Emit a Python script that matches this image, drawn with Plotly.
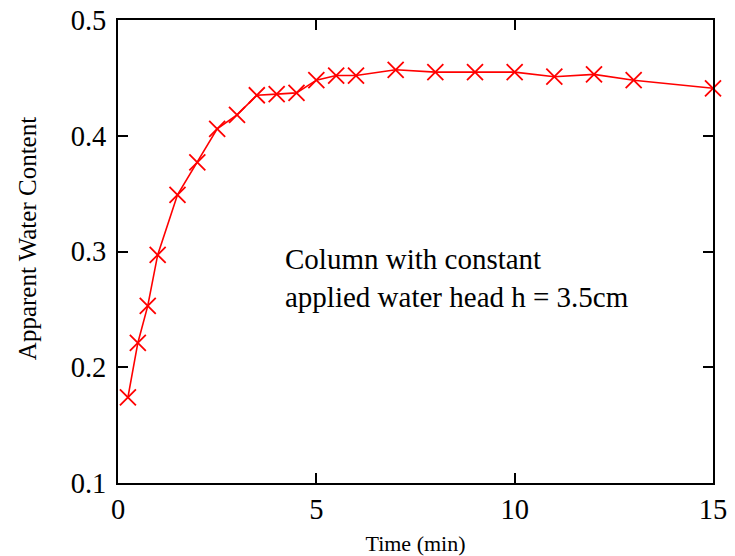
import plotly.graph_objects as go

time_min = [0.25, 0.5, 0.75, 1, 1.5, 2, 2.5, 3, 3.5, 4, 4.5, 5, 5.5, 6,
            7, 8, 9, 10, 11, 12, 13, 15]
water_content = [0.174, 0.221, 0.253, 0.297, 0.349, 0.377, 0.406, 0.418,
                 0.435, 0.436, 0.437, 0.448, 0.452, 0.452, 0.457, 0.455,
                 0.455, 0.455, 0.451, 0.453, 0.448, 0.441]

x_ticks = [0, 5, 10, 15]
y_ticks = [0.1, 0.2, 0.3, 0.4, 0.5]
y_tick_labels = ["0.1", "0.2", "0.3", "0.4", "0.5"]

FONT = "Liberation Serif"

fig = go.Figure()
fig.add_trace(go.Scatter(
    x=time_min, y=water_content, mode="lines+markers",
    line=dict(color="#ff0000", width=1.6),
    marker=dict(symbol="x-thin", size=16, line=dict(color="#ff0000", width=1.8)),
    cliponaxis=False, showlegend=False,
))

axis_common = dict(
    showgrid=False, zeroline=False, showline=True, linecolor="black",
    linewidth=2, mirror="ticks", ticks="inside", ticklen=10, tickwidth=2,
    tickcolor="black", tickfont=dict(family=FONT, size=28.5, color="black"),
    automargin=False,
)

fig.update_layout(
    width=735, height=556,
    margin=dict(l=118, r=22, t=20, b=73),
    paper_bgcolor="white", plot_bgcolor="white",
    font=dict(family=FONT, color="black"),
    xaxis=dict(range=[0, 15], tickvals=x_ticks,
               title=dict(text="Time (min)", font=dict(family=FONT, size=22), standoff=18),
               **axis_common),
    yaxis=dict(range=[0.1, 0.5], tickvals=y_ticks, ticktext=y_tick_labels,
               ticklabelstandoff=4, **axis_common),
    annotations=[
        dict(
            x=4.17, y=0.277, xref="x", yref="y", xanchor="left", yanchor="middle",
            text="Column with constant<br>applied water head h = 3.5cm",
            showarrow=False, align="left",
            font=dict(family=FONT, size=29, color="black"),
        ),
        dict(
            x=-0.151, y=0.527, xref="paper", yref="paper",
            xanchor="center", yanchor="middle", textangle=-90,
            text="Apparent Water Content", showarrow=False,
            font=dict(family=FONT, size=25, color="black"),
        ),
    ],
)

fig.write_html("out.html")
